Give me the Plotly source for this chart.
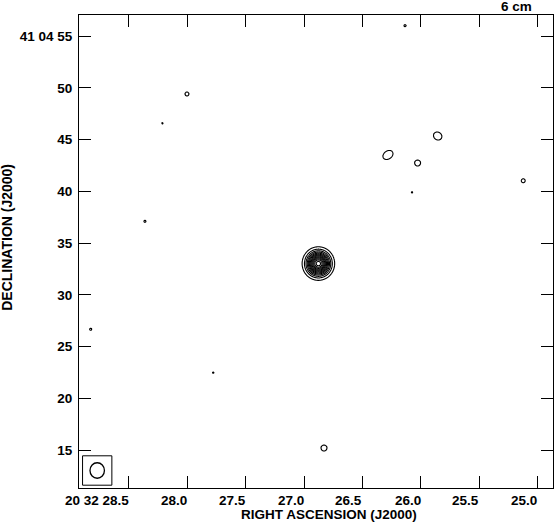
import numpy as np
import plotly.graph_objects as go

# 6 cm map, RA in seconds after 20h32m, Dec in arcsec after +41d04m
src_ra   = [26.877, 26.135, 28.003, 28.213, 28.363, 28.828, 27.778, 26.829,
            26.281, 25.855, 26.027, 26.075, 25.122]
src_dec  = [33.02, 56.00, 49.40, 46.57, 37.10, 26.67, 22.48, 15.20,
            43.51, 45.34, 42.73, 39.90, 41.02]
# peak brightness in units of the lowest contour
src_peak = [13.6, 1.013, 1.05, 1.005, 1.013, 1.013, 1.005, 1.12,
            1.33, 1.26, 1.12, 1.005, 1.05]
# gaussian sigma (arcsec) along major / minor axis, angle on the sky (deg)
src_smaj = [0.71, 0.6, 0.6, 0.6, 0.6, 0.6, 0.6, 0.6, 0.70, 0.62, 0.6, 0.6, 0.6]
src_smin = [0.69, 0.6, 0.6, 0.6, 0.6, 0.6, 0.6, 0.6, 0.51, 0.54, 0.6, 0.6, 0.6]
src_pa   = [90, 0, 0, 0, 0, 0, 0, 0, 35, -35, 0, 0, 0]

lev_start, lev_end, lev_step = 1, 13, 1

ra_ticks = [28.5, 28.0, 27.5, 27.0, 26.5, 26.0, 25.5, 25.0]
ra_text  = ['20 32 28.5', '28.0', '27.5', '27.0', '26.5', '26.0', '25.5', '25.0']
dec_ticks = [15, 20, 25, 30, 35, 40, 45, 50, 55]
dec_text  = ['15', '20', '25', '30', '35', '40', '45', '50', '41 04 55']

ra_range  = [28.928, 24.867]
dec_range = [11.34, 57.03]

# restoring beam (arcsec) and where it sits
beam_maj, beam_min = 1.50, 1.40
beam_ra, beam_dec = 28.772, 13.03
beam_box = 2.84

ARCSEC_PER_S = 15 * np.cos(np.radians(41 + 4 / 60 + 33 / 3600))
FONT = dict(family='Liberation Sans, Arial, sans-serif', size=13.5,
            color='black', weight='bold')
TITLE_FONT = dict(FONT, size=14)

fig = go.Figure()

for ra0, dec0, pk, sa, sb, pa in zip(src_ra, src_dec, src_peak,
                                     src_smaj, src_smin, src_pa):
    r1 = sa * np.sqrt(2 * np.log(pk / lev_start))
    h = 1.4 * r1 + 0.25
    u = np.linspace(-h, h, 141)
    X, Y = np.meshgrid(u, u)
    dx = -X                     # RA grows to the left
    t = np.radians(pa)
    xr = dx * np.cos(t) + Y * np.sin(t)
    yr = -dx * np.sin(t) + Y * np.cos(t)
    z = pk * np.exp(-0.5 * (xr ** 2 / sa ** 2 + yr ** 2 / sb ** 2))
    fig.add_trace(go.Contour(
        x=ra0 + u / ARCSEC_PER_S, y=dec0 + u, z=np.round(z, 5),
        autocontour=False,
        contours=dict(start=lev_start, end=lev_end, size=lev_step,
                      coloring='lines'),
        line=dict(width=1.1),
        colorscale=[[0, 'black'], [1, 'black']],
        showscale=False, hoverinfo='skip',
    ))

# beam in the corner
bx = beam_box / 2 / ARCSEC_PER_S
fig.add_shape(type='rect', x0=beam_ra + bx, x1=beam_ra - bx,
              y0=beam_dec - beam_box / 2, y1=beam_dec + beam_box / 2,
              line=dict(color='black', width=1))
fig.add_shape(type='circle',
              x0=beam_ra + beam_min / 2 / ARCSEC_PER_S,
              x1=beam_ra - beam_min / 2 / ARCSEC_PER_S,
              y0=beam_dec - beam_maj / 2, y1=beam_dec + beam_maj / 2,
              line=dict(color='black', width=1.3))

axis = dict(showgrid=False, zeroline=False, showline=True, linecolor='black',
            linewidth=1, mirror='ticks', ticks='inside', ticklen=12,
            tickcolor='black', tickwidth=1, automargin=False)

fig.update_layout(
    width=554, height=522,
    paper_bgcolor='white', plot_bgcolor='white',
    margin=dict(l=79, r=1, t=15, b=34, autoexpand=False),
    font=FONT,
    xaxis=dict(axis, range=ra_range, tickvals=ra_ticks, showticklabels=False),
    yaxis=dict(axis, range=dec_range, tickvals=dec_ticks, ticktext=dec_text,
               tickfont=FONT, ticklabelstandoff=3),
    showlegend=False,
)

# RA labels sit to the left of their ticks
for v, s in zip(ra_ticks, ra_text):
    fig.add_annotation(x=v, y=0, xref='x', yref='paper', text=s,
                       showarrow=False, xanchor='right', yanchor='top',
                       xshift=2, yshift=-3, font=FONT)

fig.add_annotation(x=0.528, y=0, xref='paper', yref='paper',
                   text='RIGHT ASCENSION (J2000)', showarrow=False,
                   xanchor='center', yanchor='top', yshift=-17, font=FONT)
fig.add_annotation(x=-0.151, y=0.53, xref='paper', yref='paper',
                   text='DECLINATION (J2000)', showarrow=False, textangle=-90,
                   xanchor='center', yanchor='middle', font=TITLE_FONT)
fig.add_annotation(x=0.96, y=1, xref='paper', yref='paper', text='6 cm',
                   showarrow=False, xanchor='right', yanchor='bottom',
                   yshift=-1, font=FONT)

# page body has an 8px default margin; drop it so the figure sits at 0,0
fig.write_html("out.html", config={'displayModeBar': False},
               post_script="document.body.style.margin='0';")
